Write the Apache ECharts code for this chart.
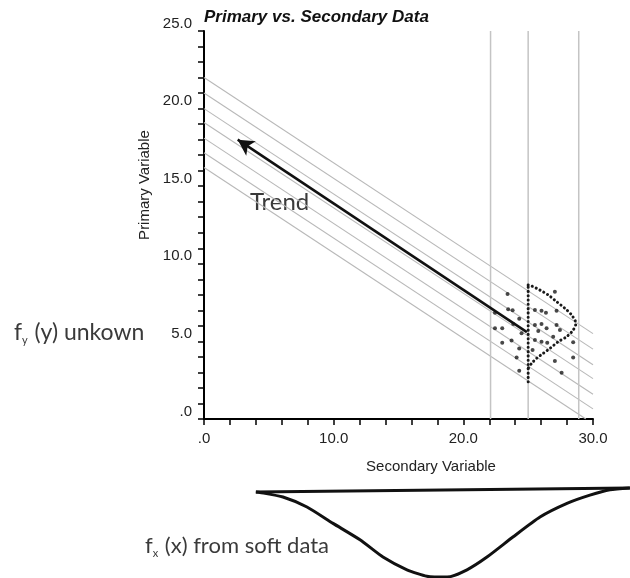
<!DOCTYPE html>
<html>
<head>
<meta charset="utf-8">
<script src="https://cdn.jsdelivr.net/npm/echarts@6/dist/echarts.min.js"></script>
<style>
html,body{margin:0;padding:0;background:#fff;}
#chart{width:630px;height:578px;}
</style>
</head>
<body>
<div id="chart"></div>
<script>
// ---- data ----
const titleText = 'Primary vs. Secondary Data';
const xName = 'Secondary Variable';
const yName = 'Primary Variable';
const xTickLabels = ['.0', '10.0', '20.0', '30.0'];
const yTickLabels = ['.0', '5.0', '10.0', '15.0', '20.0', '25.0'];

// parallel gray band lines (start at x=0, end at bandEndX)
const bandStartY = [22.0, 21.0, 20.0, 19.1, 18.1, 17.15, 16.2];
const bandEndX   = [30, 30, 30, 30, 30, 30, 29.45];
const bandEndY   = [5.5, 4.5, 3.5, 2.6, 1.6, 0.65, 0.0];

// vertical gray reference lines
const refLineX = [22.1, 25.0, 28.9];

// trend arrow (from -> to)
const trendFrom = [24.9, 5.6];
const trendTo   = [2.6, 18.0];

// scattered samples
const sampleX = [23.41, 23.46, 23.80, 22.44, 24.31, 23.85, 22.44, 23.00, 24.49, 23.72, 23.00, 24.31, 24.11, 24.31,
                 25.52, 26.03, 26.37, 27.19, 25.52, 26.03, 26.42, 27.19, 25.78, 27.45, 26.93, 25.52, 26.03, 26.47, 25.34,
                 27.06, 28.47, 28.47, 27.06, 27.58];
const sampleY = [8.05, 7.07, 7.00, 6.85, 6.46, 6.12, 5.84, 5.84, 5.52, 5.05, 4.92, 4.55, 3.97, 3.11,
                 7.02, 6.98, 6.85, 6.98, 6.06, 6.12, 5.84, 6.06, 5.67, 5.73, 5.30, 5.09, 4.98, 4.92, 4.45,
                 8.20, 4.94, 3.97, 3.74, 2.98];

// dotted distribution f_y drawn sideways at x = 25
const fyCurveX = [25.0, 25.27, 25.9, 26.55, 27.19, 27.83, 28.35, 28.68, 28.47, 27.96, 27.32, 26.68, 26.16, 25.65, 25.27, 25.0];
const fyCurveY = [8.63, 8.57, 8.31, 7.99, 7.56, 7.13, 6.70, 6.16, 5.73, 5.30, 4.98, 4.55, 4.23, 3.91, 3.59, 3.27];
const fyStemX = [25.0, 25.0];
const fyStemY = [2.4, 8.6];

// soft-data distribution f_x below the chart (depth 0 = baseline, 1 = deepest)
const fxCurveX = [4.0, 4.32, 6.09, 7.94, 9.95, 12.03, 13.80, 15.65, 17.19, 18.74, 20.28, 21.82, 23.82, 25.91, 27.99, 29.76, 31.30, 32.84];
const fxCurveD = [0.055, 0.06, 0.11, 0.22, 0.40, 0.58, 0.77, 0.91, 0.98, 0.99, 0.91, 0.77, 0.55, 0.33, 0.18, 0.09, 0.03, 0.01];
const fxBaseX = [4.0, 32.84];
const fxBaseD = [0.055, 0.01];
const fxAxisMax = 32.85;

const annoTrend = 'Trend';
const annoFy = ['f', 'y', ' (y) unkown'];
const annoFx = ['f', 'x', ' (x) from soft data'];

// ---- build chart ----
const chart = echarts.init(document.getElementById('chart'), null, {renderer: 'canvas'});
const FONT = 'Liberation Sans, Arial, sans-serif';
const ANNO_FONT = 'Lato, Open Sans, sans-serif';
const ANNO_COLOR = '#3a3a3a';

const series = [];
bandStartY.forEach((y0, i) => {
  series.push({
    type: 'line', xAxisIndex: 0, yAxisIndex: 0, silent: true, symbol: 'none',
    data: [[0, y0], [bandEndX[i], bandEndY[i]]],
    lineStyle: {color: '#b8b8b8', width: 1.1}, z: 1
  });
});
refLineX.forEach(x => {
  series.push({
    type: 'line', xAxisIndex: 0, yAxisIndex: 0, silent: true, symbol: 'none',
    data: [[x, 0], [x, 25]],
    lineStyle: {color: '#c4c4c4', width: 1.5}, z: 1
  });
});
series.push({
  type: 'scatter', xAxisIndex: 0, yAxisIndex: 0, silent: true,
  data: sampleX.map((x, i) => [x, sampleY[i]]),
  symbolSize: 4, itemStyle: {color: '#1a1a1a'}, z: 3
});
series.push({
  type: 'line', xAxisIndex: 0, yAxisIndex: 0, silent: true, symbol: 'none', smooth: 0.3,
  data: fyCurveX.map((x, i) => [x, fyCurveY[i]]),
  lineStyle: {color: '#1a1a1a', width: 3, type: [0.1, 4.2], cap: 'round'}, z: 4
});
series.push({
  type: 'line', xAxisIndex: 0, yAxisIndex: 0, silent: true, symbol: 'none',
  data: fyStemX.map((x, i) => [x, fyStemY[i]]),
  lineStyle: {color: '#1a1a1a', width: 3, type: [0.1, 4.2], cap: 'round'}, z: 4,
  markLine: {
    silent: true, animation: false,
    symbol: ['none', 'arrow'], symbolSize: [13, 16],
    label: {show: false},
    lineStyle: {color: '#111', width: 2.5, type: 'solid'},
    data: [[{coord: trendFrom}, {coord: trendTo}]]
  }
});
series.push({
  type: 'line', xAxisIndex: 1, yAxisIndex: 1, silent: true, symbol: 'none',
  data: fxBaseX.map((x, i) => [x, fxBaseD[i]]),
  lineStyle: {color: '#111', width: 3}
});
series.push({
  type: 'line', xAxisIndex: 1, yAxisIndex: 1, silent: true, symbol: 'none', smooth: 0.2,
  data: fxCurveX.map((x, i) => [x, fxCurveD[i]]),
  lineStyle: {color: '#111', width: 3}
});

const tickStyle = {color: '#000', width: 1.5};
const option = {
  animation: false,
  backgroundColor: '#fff',
  title: {
    text: titleText, left: 204, top: 9, padding: 0,
    textStyle: {fontFamily: FONT, fontSize: 17, fontWeight: 'bold', fontStyle: 'italic', color: '#111'}
  },
  grid: [
    {left: 204, top: 31, width: 389, height: 388, outerBoundsMode: 'none', containLabel: false},
    {left: 204, top: 487, width: 426, height: 91, outerBoundsMode: 'none', containLabel: false}
  ],
  xAxis: [{
    gridIndex: 0, type: 'value', min: 0, max: 30, interval: 10,
    axisLine: {show: true, onZero: false, lineStyle: {color: '#000', width: 2}},
    axisTick: {show: true, length: 6, lineStyle: tickStyle},
    minorTick: {show: true, splitNumber: 5, length: 6, lineStyle: tickStyle},
    splitLine: {show: false}, minorSplitLine: {show: false},
    axisLabel: {
      show: true, fontFamily: FONT, fontSize: 15, color: '#222', margin: 12,
      showMinLabel: true, showMaxLabel: true,
      formatter: v => xTickLabels[Math.round(v / 10)]
    },
    name: xName, nameLocation: 'middle', nameGap: 40,
    nameTextStyle: {fontFamily: FONT, fontSize: 15, color: '#222', padding: [0, 0, 0, 65]}
  }, {
    gridIndex: 1, type: 'value', min: 0, max: fxAxisMax, show: false
  }],
  yAxis: [{
    gridIndex: 0, type: 'value', min: 0, max: 25, interval: 5,
    axisLine: {show: true, onZero: false, lineStyle: {color: '#000', width: 2}},
    axisTick: {show: true, length: 6, lineStyle: tickStyle},
    minorTick: {show: true, splitNumber: 5, length: 6, lineStyle: tickStyle},
    splitLine: {show: false}, minorSplitLine: {show: false},
    axisLabel: {
      show: true, fontFamily: FONT, fontSize: 15, color: '#222', margin: 12,
      verticalAlign: 'bottom', showMinLabel: true, showMaxLabel: true,
      formatter: v => yTickLabels[Math.round(v / 5)]
    },
    name: yName, nameLocation: 'middle', nameGap: 52, nameRotate: 90,
    nameTextStyle: {fontFamily: FONT, fontSize: 15, color: '#222', padding: [0, 0, 0, 80]}
  }, {
    gridIndex: 1, type: 'value', min: 0, max: 1, inverse: true, show: false
  }],
  graphic: [
    {
      type: 'text', left: 250, top: 190, silent: true,
      style: {text: annoTrend, fontFamily: ANNO_FONT, fontWeight: 400, fontSize: 24, fill: ANNO_COLOR}
    },
    {
      type: 'text', left: 14, top: 321, silent: true,
      style: {
        text: '{f|' + annoFy[0] + '}{s|' + annoFy[1] + '}{t|' + annoFy[2] + '}',
        rich: {
          f: {fontFamily: ANNO_FONT, fontWeight: 400, fontSize: 23, fill: ANNO_COLOR, verticalAlign: 'bottom'},
          s: {fontFamily: ANNO_FONT, fontWeight: 400, fontSize: 11, fill: ANNO_COLOR, verticalAlign: 'bottom', padding: [0, 1, -2, 0]},
          t: {fontFamily: ANNO_FONT, fontWeight: 400, fontSize: 23, fill: ANNO_COLOR, verticalAlign: 'bottom'}
        }
      }
    },
    {
      type: 'text', left: 145, top: 535, silent: true,
      style: {
        text: '{f|' + annoFx[0] + '}{s|' + annoFx[1] + '}{t|' + annoFx[2] + '}',
        rich: {
          f: {fontFamily: ANNO_FONT, fontWeight: 400, fontSize: 22, fill: ANNO_COLOR, verticalAlign: 'bottom'},
          s: {fontFamily: ANNO_FONT, fontWeight: 400, fontSize: 11, fill: ANNO_COLOR, verticalAlign: 'bottom', padding: [0, 1, -2, 0]},
          t: {fontFamily: ANNO_FONT, fontWeight: 400, fontSize: 22, fill: ANNO_COLOR, verticalAlign: 'bottom'}
        }
      }
    }
  ],
  series: series
};
chart.setOption(option);
</script>
</body>
</html>
